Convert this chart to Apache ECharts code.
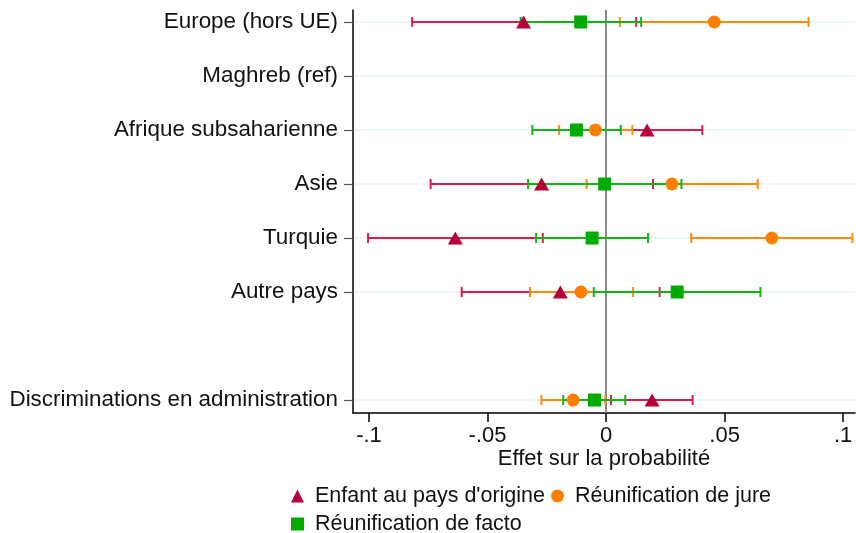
<!DOCTYPE html>
<html>
<head>
<meta charset="utf-8">
<script src="https://cdn.jsdelivr.net/npm/echarts@6/dist/echarts.min.js"></script>
<style>
  html, body { margin: 0; padding: 0; background: #fff; }
  #chart { width: 856px; height: 533px; }
</style>
</head>
<body>
<div id="chart"></div>
<script>
// rows of the plot, top to bottom (index 6 is an empty spacer row)
const categories = ['Europe (hors UE)', 'Maghreb (ref)', 'Afrique subsaharienne', 'Asie', 'Turquie', 'Autre pays', '', 'Discriminations en administration'];
const rowsShown = [0, 1, 2, 3, 4, 5, 7];
const xTicks = [-0.1, -0.05, 0, 0.05, 0.1];

// [row, estimate, low, high]
const enfant = [
  [0, -0.0348, -0.0818, 0.0127],
  [2, 0.0173, -0.0060, 0.0406],
  [3, -0.0272, -0.0740, 0.0198],
  [4, -0.0636, -0.1004, -0.0267],
  [5, -0.0193, -0.0609, 0.0226],
  [7, 0.0194, 0.0021, 0.0365]
];
const deJure = [
  [0, 0.0456, 0.0058, 0.0854],
  [2, -0.0045, -0.0198, 0.0111],
  [3, 0.0278, -0.0082, 0.0640],
  [4, 0.0699, 0.0359, 0.1039],
  [5, -0.0106, -0.0321, 0.0114],
  [7, -0.0139, -0.0273, -0.0003]
];
const deFacto = [
  [0, -0.0107, -0.0360, 0.0148],
  [2, -0.0125, -0.0311, 0.0062],
  [3, -0.0006, -0.0329, 0.0318],
  [4, -0.0059, -0.0295, 0.0177],
  [5, 0.0300, -0.0052, 0.0651],
  [7, -0.0049, -0.0181, 0.0081]
];

const names = ["Enfant au pays d'origine", 'Réunification de jure', 'Réunification de facto'];
const markerColors = ['#b5003a', '#ff8000', '#00aa00'];
const barColors = ['#d41f4c', '#ff8a10', '#12b412'];
const symbols = ['triangle', 'circle', 'rect'];
const groups = [enfant, deJure, deFacto];

const FONT = '"Liberation Sans", Arial, sans-serif';

function ciSeries(data, color, idx) {
  return {
    name: 'ci' + idx,
    type: 'custom',
    data: data.map(d => [d[2], d[3], d[0]]),
    encode: { x: [0, 1], y: 2 },
    renderItem: function (params, api) {
      const a = api.coord([api.value(0), api.value(2)]);
      const b = api.coord([api.value(1), api.value(2)]);
      const h = 5;
      const style = { stroke: color, lineWidth: 2 };
      return {
        type: 'group',
        children: [
          { type: 'line', shape: { x1: a[0], y1: a[1], x2: b[0], y2: b[1] }, style: style },
          { type: 'line', shape: { x1: a[0], y1: a[1] - h, x2: a[0], y2: a[1] + h }, style: style },
          { type: 'line', shape: { x1: b[0], y1: b[1] - h, x2: b[0], y2: b[1] + h }, style: style }
        ]
      };
    },
    z: 2
  };
}

function pointSeries(data, idx) {
  return {
    name: names[idx],
    type: 'scatter',
    symbol: symbols[idx],
    symbolSize: idx === 0 ? [15, 13] : 13,
    itemStyle: { color: markerColors[idx], opacity: 1 },
    data: data.map(d => [d[1], d[0]]),
    z: 3
  };
}

const series = [];
groups.forEach((g, i) => series.push(ciSeries(g, barColors[i], i)));
groups.forEach((g, i) => series.push(pointSeries(g, i)));
series[0].markLine = {
  silent: true,
  symbol: 'none',
  label: { show: false },
  lineStyle: { color: '#8a8a8a', width: 2, type: 'solid' },
  data: [{ xAxis: 0 }],
  z: 1
};

const legendBase = {
  left: 286,
  orient: 'horizontal',
  itemWidth: 13,
  itemHeight: 13,
  itemGap: 6,
  selectedMode: false,
  textStyle: { fontFamily: FONT, fontSize: 21.5, color: '#111', padding: [0, 0, 0, 6] }
};

const option = {
  animation: false,
  backgroundColor: '#fff',
  grid: { left: 353, right: 1, top: 10, height: 403 },
  xAxis: {
    type: 'value',
    min: -0.10675,
    max: 0.105,
    name: 'Effet sur la probabilité',
    nameLocation: 'middle',
    nameGap: 35,
    nameMoveOverlap: false,
    nameTextStyle: { fontFamily: FONT, fontSize: 22, color: '#111' },
    axisLine: { show: true, onZero: false, lineStyle: { color: '#000', width: 1.5 } },
    axisTick: { show: true, length: 9, customValues: xTicks, lineStyle: { color: '#000', width: 1.5 } },
    axisLabel: {
      customValues: xTicks,
      margin: 12,
      fontFamily: FONT,
      fontSize: 22,
      color: '#111',
      formatter: v => (v === 0 ? '0' : String(Math.round(v * 100) / 100).replace('0.', '.'))
    },
    splitLine: { show: false }
  },
  yAxis: {
    type: 'value',
    inverse: true,
    min: -0.222,
    max: 7.24,
    axisLine: { show: true, onZero: false, lineStyle: { color: '#000', width: 1.5 } },
    axisTick: { show: true, length: 9, customValues: rowsShown, lineStyle: { color: '#555', width: 1.2 } },
    axisLabel: {
      customValues: rowsShown,
      margin: 15,
      fontFamily: FONT,
      fontSize: 22.4,
      color: '#111',
      formatter: v => categories[Math.round(v)]
    },
    splitLine: { show: true, lineStyle: { color: '#e6f3f5', width: 1.5 } }
  },
  legend: [
    Object.assign({}, legendBase, { top: 480, data: [names[0], names[1]] }),
    Object.assign({}, legendBase, { top: 508, data: [names[2]] })
  ],
  series: series
};

const myChart = echarts.init(document.getElementById('chart'));
myChart.setOption(option);
window.onresize = myChart.resize;
</script>
</body>
</html>
